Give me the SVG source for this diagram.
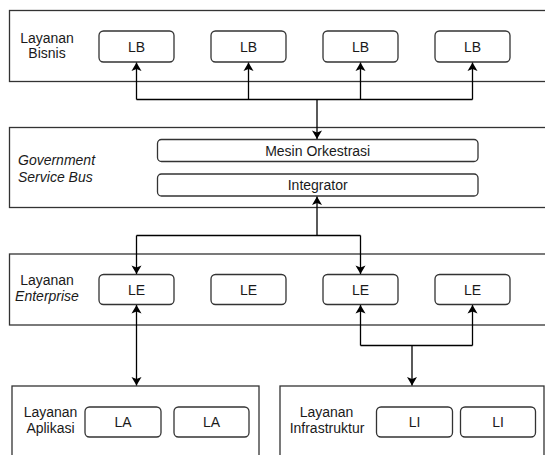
<svg xmlns="http://www.w3.org/2000/svg" width="545" height="455" viewBox="0 0 545 455">
  <style>
    .layer { fill: #ffffff; stroke: #333333; stroke-width: 1.3; }
    .node { fill: #ffffff; stroke: #333333; stroke-width: 1.3; }
    .lbl { font-family: "Liberation Sans", Arial, sans-serif; font-size: 14px; fill: #1a1a1a; text-anchor: middle; }
    .it { font-style: italic; }
    .wire { fill: none; stroke: #000000; stroke-width: 1.3; }
  </style>
  <defs>
    <marker id="arrow" markerUnits="userSpaceOnUse" markerWidth="11" markerHeight="11" viewBox="0 0 11 11" refX="9.5" refY="5.5" orient="auto-start-reverse">
      <path d="M1,0.5 L9.5,5.5 L1,10.5 L3,5.5 Z" fill="#000000"/>
    </marker>
  </defs>
  <rect width="545" height="455" fill="#ffffff"/>

  <!-- Layanan Bisnis layer -->
  <g id="layer-bisnis">
    <rect class="layer" x="9.5" y="10.5" width="545" height="71"/>
    <text class="lbl" x="47" y="43">Layanan</text>
    <text class="lbl" x="47" y="58">Bisnis</text>
  </g>
  <g id="lb1"><rect class="node" x="99" y="31" width="75" height="31" rx="4.5"/><text class="lbl" x="136.5" y="51.5">LB</text></g>
  <g id="lb2"><rect class="node" x="211" y="31" width="75" height="31" rx="4.5"/><text class="lbl" x="248.5" y="51.5">LB</text></g>
  <g id="lb3"><rect class="node" x="323" y="31" width="75" height="31" rx="4.5"/><text class="lbl" x="360.5" y="51.5">LB</text></g>
  <g id="lb4"><rect class="node" x="435" y="31" width="75" height="31" rx="4.5"/><text class="lbl" x="472.5" y="51.5">LB</text></g>

  <!-- Government Service Bus layer -->
  <g id="layer-gsb">
    <rect class="layer" x="9.5" y="127.5" width="545" height="80"/>
    <text class="lbl it" x="18" y="165" style="text-anchor:start">Government</text>
    <text class="lbl it" x="18" y="181.5" style="text-anchor:start">Service Bus</text>
  </g>
  <g id="mesin-orkestrasi"><rect class="node" x="157.5" y="139.5" width="320.5" height="22" rx="4"/><text class="lbl" x="317.7" y="155.5">Mesin Orkestrasi</text></g>
  <g id="integrator"><rect class="node" x="157.5" y="174" width="320.5" height="22" rx="4"/><text class="lbl" x="317.7" y="190">Integrator</text></g>

  <!-- Layanan Enterprise layer -->
  <g id="layer-enterprise">
    <rect class="layer" x="9.5" y="254" width="545" height="71"/>
    <text class="lbl" x="47" y="285">Layanan</text>
    <text class="lbl it" x="47" y="300.5">Enterprise</text>
  </g>
  <g id="le1"><rect class="node" x="99" y="274.5" width="75" height="30" rx="4.5"/><text class="lbl" x="136.5" y="294.5">LE</text></g>
  <g id="le2"><rect class="node" x="211" y="274.5" width="75" height="30" rx="4.5"/><text class="lbl" x="248.5" y="294.5">LE</text></g>
  <g id="le3"><rect class="node" x="323" y="274.5" width="75" height="30" rx="4.5"/><text class="lbl" x="360.5" y="294.5">LE</text></g>
  <g id="le4"><rect class="node" x="435" y="274.5" width="75" height="30" rx="4.5"/><text class="lbl" x="472.5" y="294.5">LE</text></g>

  <!-- Layanan Aplikasi layer -->
  <g id="layer-aplikasi">
    <rect class="layer" x="12" y="386" width="247" height="80"/>
    <text class="lbl" x="50.5" y="417">Layanan</text>
    <text class="lbl" x="50.5" y="433">Aplikasi</text>
  </g>
  <g id="la1"><rect class="node" x="85" y="407" width="76" height="30" rx="4.5"/><text class="lbl" x="123" y="427">LA</text></g>
  <g id="la2"><rect class="node" x="174" y="407" width="75" height="30" rx="4.5"/><text class="lbl" x="211.5" y="427">LA</text></g>

  <!-- Layanan Infrastruktur layer -->
  <g id="layer-infrastruktur">
    <rect class="layer" x="280" y="386" width="264" height="80"/>
    <text class="lbl" x="326.5" y="417">Layanan</text>
    <text class="lbl" x="327" y="433">Infrastruktur</text>
  </g>
  <g id="li1"><rect class="node" x="376.5" y="407" width="76" height="30" rx="4.5"/><text class="lbl" x="414.5" y="427">LI</text></g>
  <g id="li2"><rect class="node" x="460.5" y="407" width="75" height="30" rx="4.5"/><text class="lbl" x="498" y="427">LI</text></g>

  <!-- Connectors -->
  <g id="connectors">
    <!-- orchestration engine to business services -->
    <path class="wire" d="M136.5,99.5 H472.5"/>
    <path class="wire" d="M317,99.5 V139" marker-end="url(#arrow)"/>
    <path class="wire" d="M136.5,99.5 V62.5" marker-end="url(#arrow)"/>
    <path class="wire" d="M248.5,99.5 V62.5" marker-end="url(#arrow)"/>
    <path class="wire" d="M360.5,99.5 V62.5" marker-end="url(#arrow)"/>
    <path class="wire" d="M472.5,99.5 V62.5" marker-end="url(#arrow)"/>

    <!-- enterprise services to integrator -->
    <path class="wire" d="M136.5,235.5 H360.5"/>
    <path class="wire" d="M317,235.5 V196.5" marker-end="url(#arrow)"/>
    <path class="wire" d="M136.5,235.5 V274" marker-end="url(#arrow)"/>
    <path class="wire" d="M360.5,235.5 V274" marker-end="url(#arrow)"/>

    <!-- enterprise service to application services -->
    <path class="wire" d="M136.5,305 V385.5" marker-start="url(#arrow)" marker-end="url(#arrow)"/>

    <!-- enterprise services to infrastructure services -->
    <path class="wire" d="M360.5,345.5 H472.5"/>
    <path class="wire" d="M360.5,345.5 V305" marker-end="url(#arrow)"/>
    <path class="wire" d="M472.5,345.5 V305" marker-end="url(#arrow)"/>
    <path class="wire" d="M412,345.5 V385.5" marker-end="url(#arrow)"/>
  </g>
</svg>
